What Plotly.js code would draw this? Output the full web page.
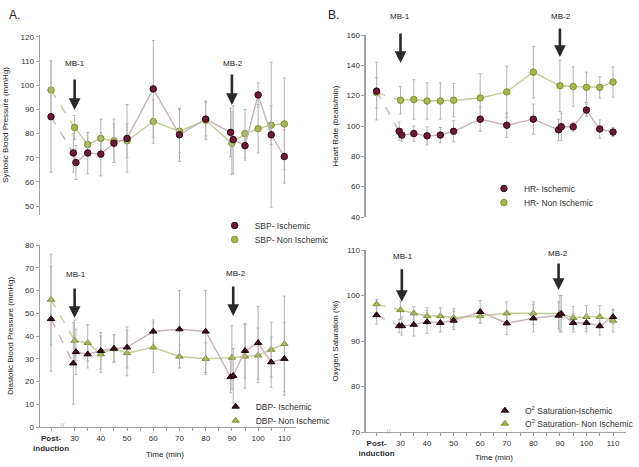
<!DOCTYPE html>
<html>
<head>
<meta charset="utf-8">
<script src="https://cdn.plot.ly/plotly-3.0.1.min.js"></script>
<style>html,body{margin:0;padding:0;background:#fff;}#chart{width:639px;height:467px;}</style>
</head>
<body>
<div id="chart"></div>
<script>
// ---- time points (Post-induction placed before the axis break) ----
const POST = 21;
const timeIsch = [POST, 29.5, 30.5, 35, 40, 45, 50, 60, 70, 80, 89.5, 90.5, 95, 100, 105, 110];
const timeNon  = [POST, 30, 35, 40, 45, 50, 60, 70, 80, 90, 95, 100, 105, 110];
const tickVals = [POST, 30, 40, 50, 60, 70, 80, 90, 100, 110];
const tickText = ["<b>Post-</b><br><b>induction</b>", "30", "40", "50", "60", "70", "80", "90", "100", "110"];
const minorTickVals = [35, 45, 55, 65, 75, 85, 95, 105];

// ---- A. Systolic blood pressure (mmHg) ----
const sbpIsch    = [87, 72, 68, 72, 71.5, 76, 78, 98.5, 79.5, 86, 80.5, 77.5, 75, 96, 79.5, 70.5];
const sbpIschErr = [23, 8, 7, 8.5, 9, 8, 14, 20, 11, 7, 10, 14, 6, 5, 30, 11];
const sbpNon     = [98, 82.5, 75.5, 78, 77, 77, 85, 81, 85.5, 76, 80, 82, 83.5, 84];
const sbpNonErr  = [12, 5, 5, 8, 9, 7, 9, 9, 8, 13, 10, 10, 8, 19];

// ---- A. Diastolic blood pressure (mmHg) ----
const dbpIsch    = [47.5, 28, 33, 32, 33.5, 34.5, 35, 42, 43, 42, 22, 22.5, 33.5, 37, 28.5, 30];
const dbpIschErr = [23, 18, 10, 6, 8, 6, 9, 5, 17, 18, 7, 12, 12, 16, 11, 16];
const dbpNon     = [56, 38, 37, 32, 34.5, 32.5, 35, 31, 30, 30.5, 31, 31.5, 34, 36.5];
const dbpNonErr  = [20, 9, 8, 8, 6, 10, 11, 5, 7, 14, 14, 12, 12, 21];

// ---- B. Heart rate (beats/min) ----
const hrIsch    = [123, 96.5, 94, 95, 93.5, 94, 96.5, 104.5, 100.5, 104.5, 97.5, 99.5, 99.5, 110.5, 98, 96];
const hrIschErr = [19, 6, 4, 5, 6, 5, 7, 8, 8, 10, 7, 9, 3, 4, 6, 3];
const hrNon     = [122, 117, 117.5, 116.5, 116.5, 117, 118.5, 122.5, 135.5, 126.5, 126, 125.5, 125.5, 129];
const hrNonErr  = [10, 9, 13, 12, 12, 11, 16, 17, 17, 17, 13, 10, 7, 10];

// ---- B. Oxygen saturation (%) ----
const o2Isch    = [95.7, 93.3, 93.3, 93.6, 94.2, 94, 94.5, 96.4, 93.9, 95, 95.6, 96, 94, 94, 93.3, 95.3];
const o2IschErr = [2, 1.5, 2, 2.5, 2.5, 2, 2, 2.5, 2.5, 3, 3, 4, 2, 2, 2, 1.5];
const o2Non     = [98.1, 96.8, 96.1, 95.5, 95.5, 95.1, 95.5, 96.1, 96.1, 96, 95.1, 95.3, 95.3, 94.5];
const o2NonErr  = [1, 2, 1.5, 1.8, 1.8, 2, 1.5, 2.5, 2.5, 4, 2.5, 2.5, 2.5, 2.5];

// ---- labels ----
const names = {
  sbp: ["SBP- Ischemic", "SBP- Non Ischemic"],
  dbp: ["DBP- Ischemic", "DBP- Non Ischemic"],
  hr:  ["HR- Ischemic", "HR- Non Ischemic"],
  o2:  ["O<sup>2</sup> Saturation-Ischemic", "O<sup>2</sup> Saturation- Non Ischemic"]
};
const yTitles = ["Systolic Blood Pressure (mmHg)", "Diastolic Blood Pressure (mmHg)", "Heart Rate (beats/min)", "Oxygen Saturation (%)"];
const xTitle = "Time (min)";

// ---- styles ----
const FONT = "Liberation Sans, Arial, sans-serif";
const ISCH_FILL = "#6e1a34", ISCH_EDGE = "#2e0812", ISCH_LINE = "#c7b4ba";
const TRI_FILL = "#3a0d1a", TRI_EDGE = "#1a0508";
const NON_FILL = "#a6b84c", NON_EDGE = "#7f8f33", NON_LINE = "#c2cc98";
const ERR_COL = "#b4b4b4";

function seriesTraces(x, y, err, name, fill, edge, lineCol, symbol, xa, ya, legend) {
  const err_y = {type: "data", array: err, visible: true, color: ERR_COL, thickness: 1, width: 1.5};
  return [
    {x: x.slice(0, 2), y: y.slice(0, 2), mode: "lines", xaxis: xa, yaxis: ya, showlegend: false,
     hoverinfo: "skip", line: {color: lineCol, width: 1.4, dash: "dash"}},
    {x: x.slice(1), y: y.slice(1), mode: "lines", xaxis: xa, yaxis: ya, showlegend: false,
     hoverinfo: "skip", line: {color: lineCol, width: 1.4}},
    {x: x, y: y, mode: "markers", name: name, xaxis: xa, yaxis: ya, legend: legend,
     error_y: err_y,
     marker: {symbol: symbol, size: 6.5, color: fill, line: {color: edge, width: 1}}}
  ];
}

let data = [];
data = data.concat(seriesTraces(timeNon, sbpNon, sbpNonErr, names.sbp[1], NON_FILL, NON_EDGE, NON_LINE, "circle", "x", "y", "legend2"));
data = data.concat(seriesTraces(timeIsch, sbpIsch, sbpIschErr, names.sbp[0], ISCH_FILL, ISCH_EDGE, ISCH_LINE, "circle", "x", "y", "legend"));
data = data.concat(seriesTraces(timeNon, dbpNon, dbpNonErr, names.dbp[1], NON_FILL, NON_EDGE, NON_LINE, "triangle-up", "x2", "y2", "legend4"));
data = data.concat(seriesTraces(timeIsch, dbpIsch, dbpIschErr, names.dbp[0], TRI_FILL, TRI_EDGE, ISCH_LINE, "triangle-up", "x2", "y2", "legend3"));
data = data.concat(seriesTraces(timeNon, hrNon, hrNonErr, names.hr[1], NON_FILL, NON_EDGE, NON_LINE, "circle", "x3", "y3", "legend6"));
data = data.concat(seriesTraces(timeIsch, hrIsch, hrIschErr, names.hr[0], ISCH_FILL, ISCH_EDGE, ISCH_LINE, "circle", "x3", "y3", "legend5"));
data = data.concat(seriesTraces(timeNon, o2Non, o2NonErr, names.o2[1], NON_FILL, NON_EDGE, NON_LINE, "triangle-up", "x4", "y4", "legend8"));
data = data.concat(seriesTraces(timeIsch, o2Isch, o2IschErr, names.o2[0], TRI_FILL, TRI_EDGE, ISCH_LINE, "triangle-up", "x4", "y4", "legend7"));

const W = 639, H = 467;
const px = (a, b) => [a / W, b / W];
const py = (top, bottom) => [1 - bottom / H, 1 - top / H];

const tickFont = {family: FONT, size: 8, color: "#333"};
const titleFont = {family: FONT, size: 8, color: "#222"};

function yAx(dom, range, dtick, title, anchor, standoff) {
  return {domain: dom, range: range, dtick: dtick, anchor: anchor, showgrid: false, zeroline: false,
    showline: true, linecolor: "#a0a0a0", linewidth: 1.2, ticks: "outside", ticklen: 3, tickcolor: "#a0a0a0",
    tickfont: tickFont, title: {text: title, font: titleFont, standoff: standoff}};
}
function xAxHidden(dom, range, anchor) {
  return {domain: dom, range: range, anchor: anchor, visible: false, showgrid: false, zeroline: false};
}
function xAxShown(dom, range, anchor) {
  return {domain: dom, range: range, anchor: anchor, showgrid: false, zeroline: false,
    showline: true, linecolor: "#a0a0a0", linewidth: 1.2, ticks: "outside", ticklen: 3, tickcolor: "#a0a0a0",
    tickmode: "array", tickvals: tickVals, ticktext: tickText, tickangle: 0, tickfont: tickFont,
    minor: {tickmode: "array", tickvals: minorTickVals, ticks: "outside", ticklen: 3, tickcolor: "#a0a0a0", showgrid: false}};
}

const arrowStyle = {showarrow: true, arrowhead: 2, arrowsize: 0.9, arrowwidth: 2.6, arrowcolor: "#2a2a2a", text: "", ax: 0};
const txt = (x, y, s, size) => ({xref: "paper", yref: "paper", x: x / W, y: 1 - y / H, text: s, showarrow: false,
  xanchor: "center", yanchor: "middle", font: {family: FONT, size: size, color: "#222"}});
function mb(label, xa, ya, xv, headY, tailOff, textX, textY) {
  return [
    Object.assign({}, arrowStyle, {xref: xa, yref: ya, x: xv, y: headY, ay: tailOff}),
    txt(textX, textY, label, 8)
  ];
}

let annotations = [];
annotations = annotations.concat(mb("MB-1", "x", "y", 30, 89.8, -32, 75, 63));
annotations = annotations.concat(mb("MB-2", "x", "y", 90, 91.8, -32, 234, 63));
annotations = annotations.concat(mb("MB-1", "x2", "y2", 30, 47.9, -31, 76, 274));
annotations = annotations.concat(mb("MB-2", "x2", "y2", 90.5, 48.8, -31, 237, 273));
annotations = annotations.concat(mb("MB-1", "x3", "y3", 30, 141.5, -31, 403, 16));
annotations = annotations.concat(mb("MB-2", "x3", "y3", 90, 145.5, -30, 565, 16));
annotations = annotations.concat(mb("MB-1", "x4", "y4", 30.5, 98.6, -34, 406, 256));
annotations = annotations.concat(mb("MB-2", "x4", "y4", 89.5, 101.2, -28, 562, 253));
annotations.push(Object.assign(txt(7, 15, "A.", 12), {xanchor: "left"}));
annotations.push(Object.assign(txt(328, 15, "B.", 12), {xanchor: "left"}));
annotations.push(txt(166, 454, xTitle, 8));
annotations.push(txt(497, 457, xTitle, 8));
// axis break marks
annotations.push({xref: "x2", yref: "y2", x: 25.5, y: 0.8, text: "//", showarrow: false,
  font: {family: FONT, size: 8, color: "#b0b0b0"}});
annotations.push({xref: "x4", yref: "y4", x: 25.5, y: 70.2, text: "//", showarrow: false,
  font: {family: FONT, size: 8, color: "#b0b0b0"}});

const legendBase = {bgcolor: "rgba(0,0,0,0)", font: {family: FONT, size: 8.5, color: "#333"},
  itemwidth: 30, xanchor: "left", yanchor: "top"};
const leg = (x, y) => Object.assign({}, legendBase, {x: x / W, y: 1 - y / H});

const layout = {
  width: W, height: H,
  margin: {l: 0, r: 0, t: 0, b: 0},
  paper_bgcolor: "#fff", plot_bgcolor: "rgba(0,0,0,0)",
  font: {family: FONT},
  xaxis:  xAxHidden(px(40, 298), [16.7, 114.5], "y"),
  yaxis:  yAx(py(35, 215), [46.3, 120.8], 10, yTitles[0], "x", 10),
  xaxis2: xAxShown(px(40, 298), [16.7, 114.5], "y2"),
  yaxis2: yAx(py(245, 427), [0, 80], 10, yTitles[1], "x2", 10),
  xaxis3: xAxHidden(px(368, 630), [16.9, 114.9], "y3"),
  yaxis3: yAx(py(35, 217), [40, 160], 20, yTitles[2], "x3", 6),
  xaxis4: xAxShown(px(368, 630), [16.9, 114.9], "y4"),
  yaxis4: yAx(py(250, 432), [70, 110], 10, yTitles[3], "x4", 6),
  legend:  leg(216, 211),
  legend2: leg(216, 225),
  legend3: leg(217, 392),
  legend4: leg(217, 406),
  legend5: leg(487, 174),
  legend6: leg(487, 188),
  legend7: leg(488, 396),
  legend8: leg(488, 409),
  annotations: annotations,
  showlegend: true
};

Plotly.newPlot("chart", data, layout, {staticPlot: true});
</script>
</body>
</html>
